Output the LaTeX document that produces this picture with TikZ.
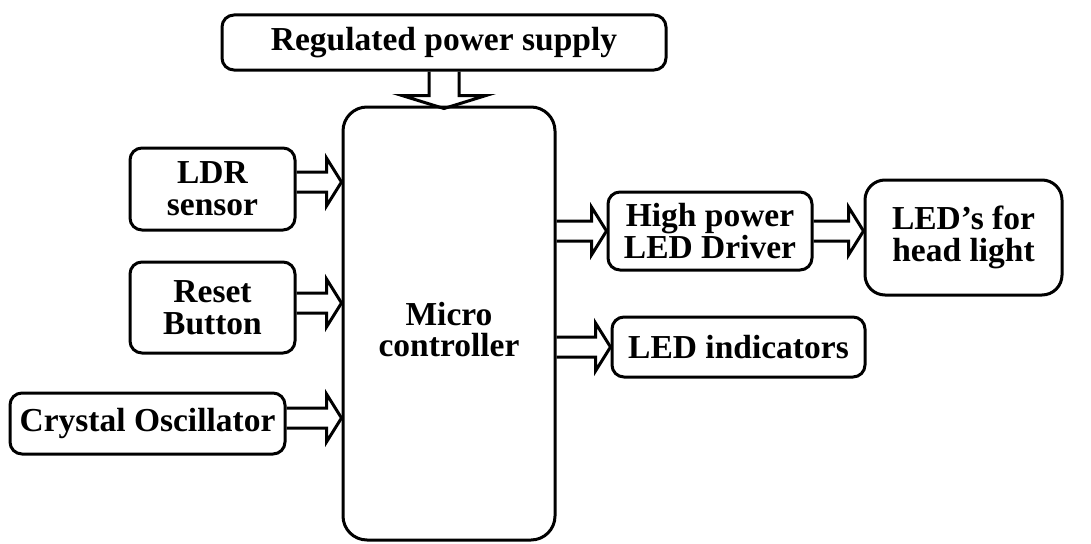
\documentclass[tikz,border=0pt]{standalone}
\usepackage{fontspec}
\setmainfont{Liberation Serif}
\usetikzlibrary{calc, positioning}

% hollow double-line arrow, horizontal, from #1 to #2
\newcommand{\fatarrow}[2]{%
  \draw[fat] ($(#1)+(0,-10)$) -- ($(#2)+(-15,-10)$) -- ($(#2)+(-15,-24)$) -- (#2)
    -- ($(#2)+(-15,24)$) -- ($(#2)+(-15,10)$) -- ($(#1)+(0,10)$);}

\begin{document}
\begin{tikzpicture}[
  x=1pt, y=-1pt,
  blk/.style={draw, line width=3pt, rounded corners=12pt, align=center, inner sep=2pt, font=\fontsize{33.5}{32}\selectfont\bfseries},
  fat/.style={line width=3pt, line join=miter}
]
  \useasboundingbox (0,0) rectangle (1091,543);

  \node[blk, minimum width=444, minimum height=55] (rps) at (444, 42.5) {Regulated power supply};
  \node[blk, minimum width=212, minimum height=433, rounded corners=24pt] (mcu) at (449, 323.5) {};
  \node[font=\fontsize{33.5}{31}\selectfont\bfseries, align=center] (mcutxt) at (449, 330) {Micro\\controller};

  \node[blk, minimum width=165, minimum height=82] (ldr) at (212.5, 189) {LDR\\sensor};
  \node[blk, minimum width=165, minimum height=91] (rst) at (212.5, 307.5) {Reset\\Button};
  \node[blk, minimum width=275, minimum height=61] (xtal) at (147.5, 423.5) {Crystal Oscillator};

  \node[blk, minimum width=204, minimum height=78] (drv) at (710, 231) {High power\\LED Driver};
  \node[blk, minimum width=197, minimum height=115, rounded corners=20pt] (head) at (963.5, 237.5) {LED’s for\\head light};
  \node[blk, minimum width=253, minimum height=60] (ind) at (738.5, 347) {LED indicators};

  % inputs
  \coordinate (ldrout) at ($(ldr.east)+(0,-7)$);
  \coordinate (ldrin) at (ldrout -| mcu.west);
  \coordinate (rstout) at ($(rst.east)+(0,-4.5)$);
  \coordinate (rstin) at (rstout -| mcu.west);
  \coordinate (xtalout) at ($(xtal.east)+(0,-5.5)$);
  \coordinate (xtalin) at (xtalout -| mcu.west);
  \fatarrow{ldrout}{ldrin}
  \fatarrow{rstout}{rstin}
  \fatarrow{xtalout}{xtalin}

  % outputs
  \coordinate (drvout) at (mcu.east |- drv.west);
  \coordinate (indout) at (mcu.east |- ind.west);
  \coordinate (headin) at (drv.east -| head.west);
  \fatarrow{drvout}{drv.west}
  \fatarrow{indout}{ind.west}
  \fatarrow{drv.east}{headin}

  % power
  \coordinate (pwrin) at ($(rps.south |- mcu.north)+(0,3)$);
  \draw[fat] ($(rps.south)+(-15,0)$) -- ($(pwrin)+(-15,-13)$) -- ($(pwrin)+(-42,-13)$) -- (pwrin)
    -- ($(pwrin)+(42,-13)$) -- ($(pwrin)+(15,-13)$) -- ($(rps.south)+(15,0)$);
\end{tikzpicture}
\end{document}
